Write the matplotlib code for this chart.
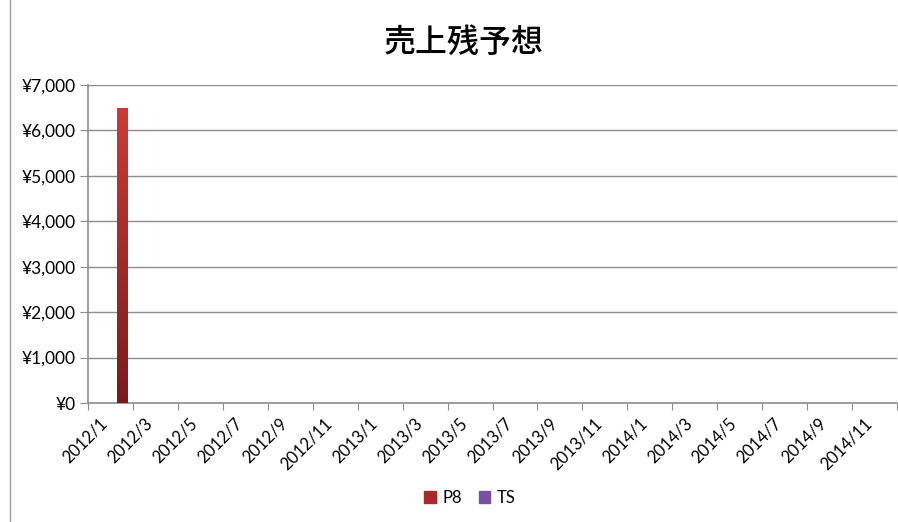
import numpy as np
import matplotlib
matplotlib.use('Agg')
import matplotlib.pyplot as plt
from matplotlib.colors import LinearSegmentedColormap
from matplotlib.patches import Patch

plt.rcParams['font.family'] = ['Lato', 'Noto Sans CJK JP', 'DejaVu Sans']

# ---- data ----
months = [f"{y}/{m}" for y in (2012, 2013, 2014) for m in range(1, 13)]
p8 = [0] * 36
p8[1] = 6500          # 2012/2
ts = [0] * 36
yticks = [0, 1000, 2000, 3000, 4000, 5000, 6000, 7000]
title = "売上残予想"

p8_top, p8_bot = "#CC3B37", "#7A1B1B"
ts_col = "#7A4FA3"
grid_col = "#8C8C8C"

fig = plt.figure(figsize=(8.98, 5.22), dpi=100)
ax = fig.add_axes([88 / 898, 1 - 403 / 522, 809 / 898, 318 / 522])

x = np.arange(len(months)) + 0.5
bars = ax.bar(x, p8, width=0.45, color=p8_bot, zorder=3)
ax.bar(x, ts, width=0.45, color=ts_col, zorder=3)

# vertical gradient inside the P8 bars
cmap = LinearSegmentedColormap.from_list("p8", [p8_bot, p8_top])
grad = np.linspace(0, 1, 256).reshape(-1, 1)
for b in bars:
    if b.get_height() <= 0:
        continue
    bx, by = b.get_x(), b.get_y()
    im = ax.imshow(grad, cmap=cmap, aspect='auto', origin='lower',
                   extent=[bx, bx + b.get_width(), by, by + b.get_height()], zorder=4)
    im.set_clip_path(b)

ax.set_xlim(0, len(months))
ax.set_ylim(0, 7000)
ax.set_yticks(yticks)
ax.set_yticklabels([f"¥{v:,}" for v in yticks], fontsize=12.5)
ax.yaxis.grid(True, color=grid_col, linewidth=1)
ax.set_axisbelow(True)

ax.set_xticks(np.arange(0, len(months) + 1, 2))
ax.set_xticklabels([])
ax.set_xticks(np.arange(0, len(months), 2) + 0.5, minor=True)
ax.set_xticklabels(months[::2], minor=True, rotation=45, ha='right',
                   rotation_mode='anchor', fontsize=12)
ax.tick_params(axis='x', which='major', length=5, color=grid_col)
ax.tick_params(axis='x', which='minor', length=0, pad=9)
ax.tick_params(axis='y', length=6, color=grid_col, pad=3)

for s in ('top', 'right'):
    ax.spines[s].set_visible(False)
for s in ('left', 'bottom'):
    ax.spines[s].set_color(grid_col)
    ax.spines[s].set_linewidth(1.2)

fig.text(464 / 898, 1 - 42 / 522, title, ha='center', va='center', fontsize=23,
         fontweight='medium')

handles = [Patch(color="#A82A2A", label="P8"), Patch(color=ts_col, label="TS")]
fig.legend(handles=handles, loc='center', bbox_to_anchor=(470 / 898, 1 - 498 / 522),
           ncol=2, frameon=False, fontsize=12, handlelength=0.7, handleheight=0.7,
           handletextpad=0.4, columnspacing=1.0)

# chart-area border on the left
fig.add_artist(plt.Line2D([10 / 898, 10 / 898], [0, 1], transform=fig.transFigure,
                          color="#A0A0A0", linewidth=1))

fig.savefig("out.png", dpi=100)
